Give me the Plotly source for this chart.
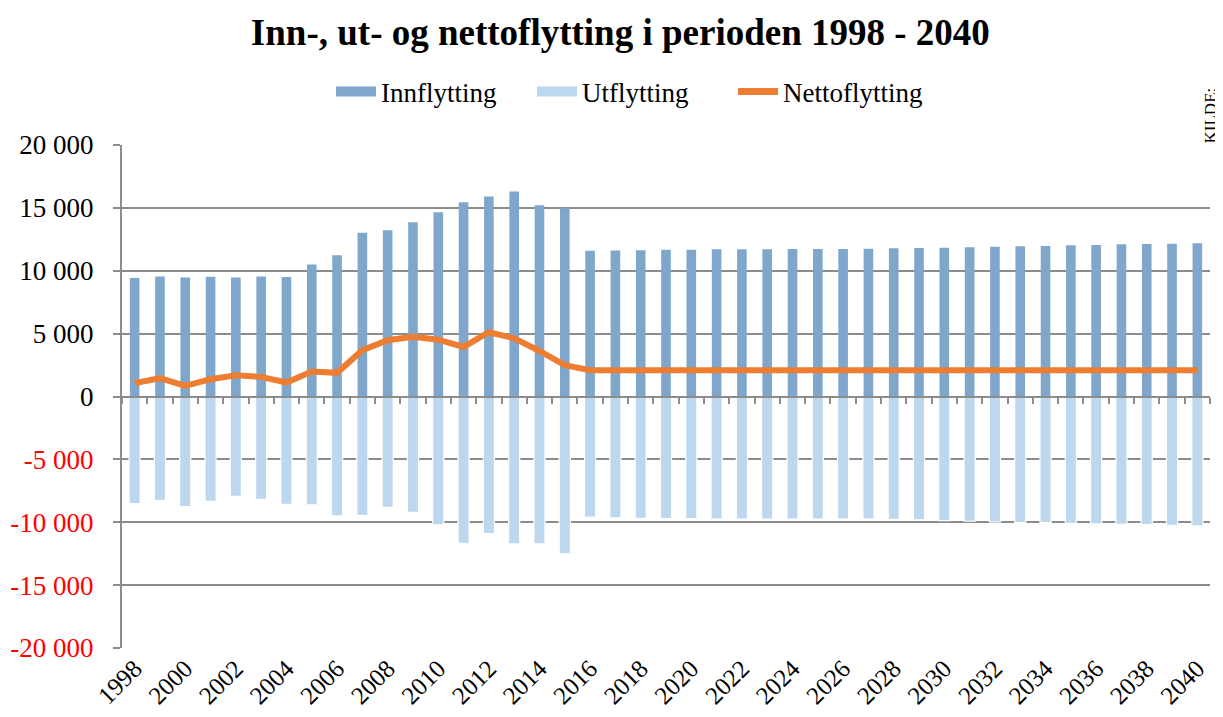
import plotly.graph_objects as go

years = [str(y) for y in range(1998, 2041)]

innflytting = [9420, 9550, 9470, 9520, 9470, 9550, 9500, 10500, 11240, 13020,
               13230, 13860, 14660, 15450, 15900, 16300, 15210, 14970, 11590, 11620,
               11640, 11670, 11670, 11700, 11700, 11700, 11720, 11720, 11720, 11750,
               11780, 11800, 11830, 11860, 11910, 11940, 11960, 12020, 12040, 12100,
               12120, 12150, 12180]

utflytting = [-8520, -8250, -8760, -8330, -7940, -8170, -8570, -8620, -9500, -9470,
              -8810, -9210, -10210, -11670, -10900, -11720, -11720, -12510, -9600, -9660,
              -9680, -9710, -9710, -9740, -9740, -9740, -9740, -9740, -9740, -9740,
              -9760, -9810, -9870, -9920, -9970, -10030, -10030, -10110, -10130, -10160,
              -10190, -10240, -10290]

nettoflytting = [1060, 1455, 850, 1375, 1690, 1560, 1110, 1980, 1880, 3680,
                 4470, 4740, 4520, 3940, 5110, 4630, 3620, 2490, 2090, 2090,
                 2080, 2080, 2080, 2080, 2080, 2080, 2080, 2080, 2080, 2080,
                 2080, 2080, 2080, 2080, 2080, 2080, 2080, 2080, 2080, 2080,
                 2080, 2080, 2080]

y_tickvals = [-20000, -15000, -10000, -5000, 0, 5000, 10000, 15000, 20000]
y_ticklabels = ["-20 000", "-15 000", "-10 000", "-5 000", "0",
                "5 000", "10 000", "15 000", "20 000"]
x_ticklabels = years[::2]

title_text = "Inn-, ut- og nettoflytting i perioden 1998 - 2040"
source_text = "KILDE:"

C_INN = "#7fa6cb"
C_UT = "#bdd7ee"
C_NET = "#ed7d31"
GRID = "#8c8c8c"
FONT = "Liberation Serif"

y_ticktext = [f'<span style="color:#ff0000">{t}</span>' if v < 0 else t
              for v, t in zip(y_tickvals, y_ticklabels)]

fig = go.Figure()

fig.add_trace(go.Bar(x=years, y=utflytting, name="Utflytting", width=0.44,
                     marker=dict(color=C_UT, line=dict(color="white", width=1.2)),
                     showlegend=False))
fig.add_trace(go.Bar(x=years, y=innflytting, name="Innflytting", width=0.38,
                     marker=dict(color=C_INN, line=dict(width=0)),
                     showlegend=False))
fig.add_trace(go.Scatter(x=years, y=nettoflytting, name="Nettoflytting", mode="lines",
                         line=dict(color=C_NET, width=6), xaxis="x2",
                         showlegend=False))

# legend proxies
fig.add_trace(go.Scatter(x=[None], y=[None], mode="lines", name="Innflytting",
                         line=dict(color=C_INN, width=14)))
fig.add_trace(go.Scatter(x=[None], y=[None], mode="lines", name="Utflytting",
                         line=dict(color=C_UT, width=14)))
fig.add_trace(go.Scatter(x=[None], y=[None], mode="lines", name="Nettoflytting",
                         line=dict(color=C_NET, width=7)))

# page body has an 8px margin; figure is sized to fill the rest of the window
fig.update_layout(
    width=1215, height=709,
    paper_bgcolor="white", plot_bgcolor="white",
    margin=dict(l=114, r=13, t=137, b=69),
    barmode="overlay",
    font=dict(family=FONT, size=26, color="black"),
    title=dict(text=f"<b>{title_text}</b>", x=0.504, xanchor="center",
               y=0.966, yanchor="middle", yref="container",
               font=dict(family=FONT, size=37, color="black")),
    legend=dict(orientation="h", xref="container", x=0.514, xanchor="center",
                yref="container", y=0.8815, yanchor="middle",
                font=dict(family=FONT, size=27), bgcolor="rgba(0,0,0,0)",
                itemwidth=40, tracegroupgap=0, entrywidth=146),
    xaxis=dict(type="category", range=[-0.5, 42.5], tickmode="array",
               tickvals=x_ticklabels, ticktext=x_ticklabels, tickangle=-45,
               showgrid=False, ticks="", showline=False, zeroline=False,
               automargin=False, tickfont=dict(family=FONT, size=25)),
    xaxis2=dict(type="category", range=[-0.5, 42.5], overlaying="x", anchor="free",
                position=0.5, side="bottom", showticklabels=False, ticks="outside",
                tickson="boundaries", ticklen=6, tickcolor=GRID, tickwidth=1.5,
                showline=True, linecolor=GRID, linewidth=2, showgrid=False,
                zeroline=False, automargin=False),
    yaxis=dict(range=[-20000, 20000], tickmode="array", tickvals=y_tickvals,
               ticktext=y_ticktext, showgrid=True, gridcolor=GRID, gridwidth=2,
               zeroline=False, showline=True, linecolor=GRID, linewidth=2,
               ticks="outside", ticklen=7, tickcolor=GRID, tickwidth=2,
               ticklabelstandoff=14,
               automargin=False, tickfont=dict(family=FONT, size=27)),
)

fig.add_annotation(text=source_text, textangle=-90, xref="paper", yref="paper",
                   x=1.011, y=1.0, xanchor="right", yanchor="bottom",
                   showarrow=False, font=dict(family=FONT, size=17, color="black"))

fig.write_html("out.html")
